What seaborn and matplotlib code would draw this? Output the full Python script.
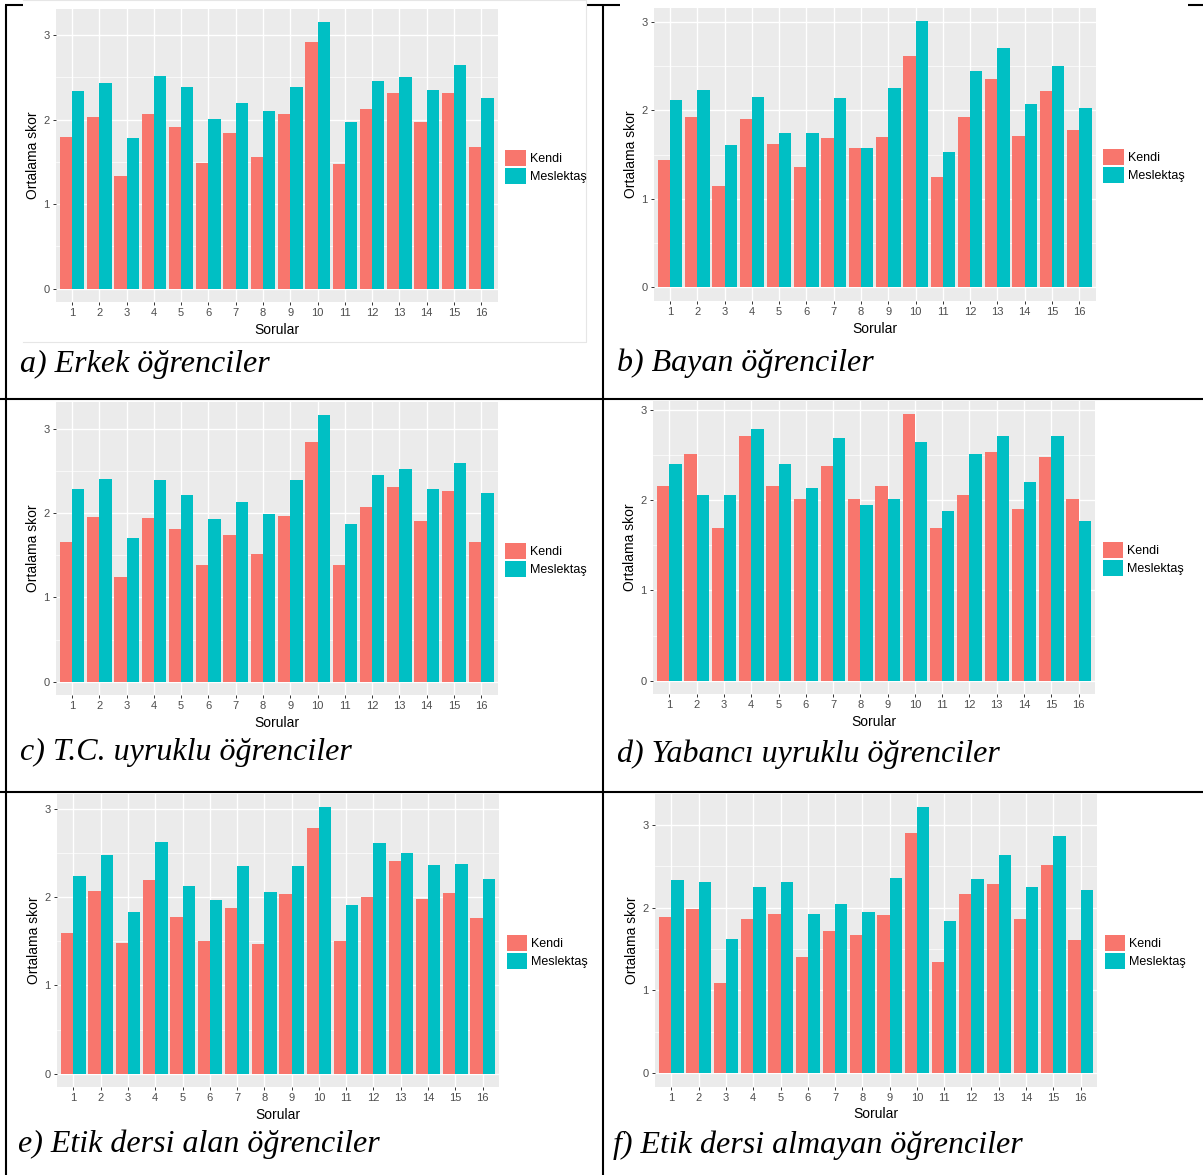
import matplotlib
matplotlib.use("Agg")
import matplotlib.pyplot as plt
import seaborn as sns
import pandas as pd
from matplotlib.ticker import FixedLocator

# ---------------- data ----------------
questions = ["1", "2", "3", "4", "5", "6", "7", "8", "9", "10", "11", "12", "13", "14", "15", "16"]
groups = ["Kendi", "Meslektaş"]

erkek_kendi = [1.79, 2.03, 1.33, 2.06, 1.91, 1.49, 1.84, 1.56, 2.07, 2.92, 1.47, 2.12, 2.31, 1.97, 2.31, 1.67]
erkek_meslektas = [2.34, 2.43, 1.78, 2.51, 2.38, 2.01, 2.19, 2.10, 2.38, 3.15, 1.97, 2.46, 2.50, 2.35, 2.65, 2.26]

bayan_kendi = [1.44, 1.92, 1.15, 1.90, 1.62, 1.36, 1.69, 1.57, 1.70, 2.62, 1.25, 1.92, 2.36, 1.71, 2.22, 1.78]
bayan_meslektas = [2.12, 2.23, 1.61, 2.15, 1.74, 1.74, 2.14, 1.58, 2.25, 3.01, 1.53, 2.44, 2.70, 2.07, 2.50, 2.03]

tc_kendi = [1.66, 1.95, 1.24, 1.94, 1.81, 1.39, 1.74, 1.51, 1.96, 2.84, 1.39, 2.07, 2.31, 1.91, 2.26, 1.66]
tc_meslektas = [2.28, 2.41, 1.70, 2.39, 2.22, 1.93, 2.13, 1.99, 2.39, 3.16, 1.87, 2.45, 2.52, 2.29, 2.60, 2.24]

yabanci_kendi = [2.16, 2.51, 1.69, 2.71, 2.16, 2.01, 2.38, 2.01, 2.16, 2.95, 1.69, 2.06, 2.53, 1.90, 2.48, 2.01]
yabanci_meslektas = [2.40, 2.06, 2.06, 2.79, 2.40, 2.13, 2.69, 1.95, 2.01, 2.64, 1.88, 2.51, 2.71, 2.20, 2.71, 1.77]

etik_alan_kendi = [1.59, 2.07, 1.48, 2.20, 1.78, 1.51, 1.88, 1.47, 2.04, 2.79, 1.51, 2.00, 2.41, 1.98, 2.05, 1.76]
etik_alan_meslektas = [2.24, 2.48, 1.83, 2.63, 2.13, 1.97, 2.35, 2.06, 2.36, 3.02, 1.91, 2.61, 2.50, 2.37, 2.38, 2.21]

etik_almayan_kendi = [1.89, 1.99, 1.09, 1.86, 1.92, 1.40, 1.72, 1.67, 1.91, 2.90, 1.35, 2.17, 2.29, 1.86, 2.52, 1.61]
etik_almayan_meslektas = [2.34, 2.31, 1.62, 2.25, 2.31, 1.93, 2.04, 1.95, 2.36, 3.22, 1.84, 2.35, 2.64, 2.25, 2.87, 2.22]

captions = [
    "a) Erkek öğrenciler",
    "b) Bayan öğrenciler",
    "c) T.C. uyruklu öğrenciler",
    "d) Yabancı uyruklu öğrenciler",
    "e) Etik dersi alan öğrenciler",
    "f) Etik dersi almayan öğrenciler",
]

y_ticks = [0, 1, 2, 3]
x_title = "Sorular"
y_title = "Ortalama skor"

# ---------------- style / layout ----------------
plt.rcParams["font.family"] = ["Liberation Sans", "DejaVu Sans"]
colors = ["#F8766D", "#00BFC4"]
W, H = 1203, 1175
PW, PH = 442.0, 293.0
# (left, top) of each grey panel in pixels, caption (x, baseline) in pixels
layout = [
    ((55.6, 9.0), (20, 372)),
    ((653.6, 7.7), (617, 371)),
    ((55.6, 402.0), (20, 760)),
    ((653.0, 401.0), (617, 762)),
    ((57.0, 794.0), (18, 1152)),
    ((655.0, 793.5), (613, 1153)),
]
series = [
    (erkek_kendi, erkek_meslektas),
    (bayan_kendi, bayan_meslektas),
    (tc_kendi, tc_meslektas),
    (yabanci_kendi, yabanci_meslektas),
    (etik_alan_kendi, etik_alan_meslektas),
    (etik_almayan_kendi, etik_almayan_meslektas),
]

fig = plt.figure(figsize=(W / 100, H / 100), dpi=100)
fig.patch.set_facecolor("white")

# background axes for the table lines
bg = fig.add_axes([0, 0, 1, 1], zorder=-5)
bg.set_xlim(0, W)
bg.set_ylim(H, 0)
bg.axis("off")
lw = 1.5
kw = dict(color="black", lw=lw, solid_capstyle="butt")
bg.plot([6, 6], [4.5, H], **kw)
bg.plot([603, 603], [4.5, H], **kw)
bg.plot([0, W], [398.5, 398.5], **kw)
bg.plot([0, W], [791.5, 791.5], **kw)
for x0, x1 in [(5, 23), (586, 620), (1188, W)]:
    bg.plot([x0, x1], [5, 5], **kw)
# faint frame of the first embedded picture
bg.plot([23, 586, 586, 23], [342, 342, 0, 0], color="#E6E6E6", lw=0.8)

for (kendi, mes), ((px, py), (cx, cy)), cap in zip(series, layout, captions):
    ax = fig.add_axes([px / W, 1 - (py + PH) / H, PW / W, PH / H])
    df = pd.DataFrame({
        "Sorular": questions * 2,
        "Grup": [groups[0]] * len(questions) + [groups[1]] * len(questions),
        "Skor": list(kendi) + list(mes),
    })
    sns.barplot(data=df, x="Sorular", y="Skor", hue="Grup", order=questions,
                hue_order=groups, palette=colors, width=0.9, gap=0,
                saturation=1, linewidth=0, errorbar=None, ax=ax)
    ymax = max(list(kendi) + list(mes))
    ax.set_ylim(-0.05 * ymax, 1.05 * ymax)
    ax.set_xlim(-0.6, len(questions) - 0.4)
    ax.set_facecolor("#EBEBEB")
    for s in ax.spines.values():
        s.set_visible(False)
    ax.set_axisbelow(True)
    ax.yaxis.set_major_locator(FixedLocator(y_ticks))
    ax.yaxis.set_minor_locator(FixedLocator([0.5, 1.5, 2.5]))
    ax.grid(which="major", color="white", lw=1.0)
    ax.grid(which="minor", axis="y", color="white", lw=0.5)
    ax.tick_params(which="major", length=2.3, width=0.7, color="#333333",
                   labelcolor="#4D4D4D", labelsize=8, pad=2.2)
    ax.tick_params(which="minor", length=0)
    ax.set_xlabel(x_title, fontsize=10, color="black")
    ax.set_ylabel(y_title, fontsize=10, color="black")
    ax.xaxis.set_label_coords(0.5, -28.0 / PH)
    ax.xaxis.label.set_va("center")
    ax.yaxis.set_label_coords(-22.6 / PW, 0.5)
    ax.yaxis.label.set_va("center")
    ax.yaxis.label.set_ha("center")
    handles, labels = ax.get_legend_handles_labels()
    ax.legend(handles, labels, loc="center left",
              bbox_to_anchor=(1 + 7.6 / PW, 0.46), frameon=False,
              fontsize=9, handlelength=1.65, handleheight=1.6,
              labelspacing=0.15, handletextpad=0.3, borderpad=0,
              borderaxespad=0)
    fig.text(cx / W, 1 - cy / H, cap, family=["Liberation Serif", "DejaVu Serif"],
             style="italic", fontsize=23, ha="left", va="baseline")

fig.savefig("out.png", dpi=100, facecolor="white")
